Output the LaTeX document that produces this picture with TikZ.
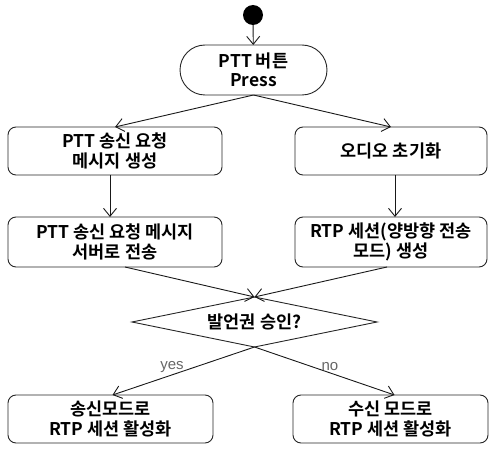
\documentclass[tikz,border=0pt]{standalone}
\usepackage{fontspec}
\setmainfont{Noto Sans CJK KR}[BoldFont={Noto Sans CJK KR Bold}]
\newfontfamily\lblfont{Liberation Sans}
\usetikzlibrary{shapes.misc,shapes.geometric,arrows.meta}
\begin{document}
\begin{tikzpicture}[x=1pt,y=1pt,
  every node/.style={inner sep=0pt,outer sep=0pt},
  txt/.style={align=center,font=\fontsize{17.5}{19.5}\selectfont\bfseries},
  box/.style={txt,draw=black!85,line width=0.9pt,rounded corners=8pt},
  arr/.style={draw=black!90,line width=0.9pt,-{Straight Barb[length=8pt,width=13pt]}},
  lbl/.style={text=black!60,font=\lblfont\fontsize{15}{17}\selectfont}]
\useasboundingbox (0,0) rectangle (496,448);
\node[circle,fill=black,minimum size=20pt] (st) at (253,433) {};
\node[txt,rounded rectangle,draw=black!85,line width=0.9pt,minimum width=147pt,minimum height=50pt] (press) at (253.5,378) {PTT 버튼\\Press};
\node[box,minimum width=214pt,minimum height=48pt] (l1) at (115,297) {PTT 송신 요청\\메시지 생성};
\node[box,minimum width=192pt,minimum height=48pt] (r1) at (391,297) {오디오 초기화};
\node[box,minimum width=214pt,minimum height=50pt] (l2) at (115,206) {PTT 송신 요청 메시지\\서버로 전송};
\node[box,minimum width=192pt,minimum height=50pt] (r2) at (391,206) {RTP 세션(양방향 전송\\모드) 생성};
\node[txt,diamond,draw=black!85,line width=0.9pt,minimum width=245pt,minimum height=50pt,aspect=4.9] (d) at (254.5,126) {발언권 승인?};
\node[box,minimum width=205pt,minimum height=48pt] (bl) at (110.5,29) {송신모드로\\RTP 세션 활성화};
\node[box,minimum width=195pt,minimum height=48pt] (br) at (390.5,29) {수신 모드로\\RTP 세션 활성화};
\draw[arr] (st) -- (press);
\draw[arr] (press.south) -- (l1.north);
\draw[arr] (press.south) -- (r1.north);
\draw[arr] ([xshift=-5pt]l1.south) -- ([xshift=-5pt]l2.north);
\draw[arr] ([xshift=4pt]r1.south) -- ([xshift=4pt]r2.north);
\draw[arr] ([xshift=10pt]l2.south) -- (d.north);
\draw[arr] ([xshift=-4pt]r2.south) -- (d.north);
\draw[arr] (d.south) -- ([xshift=2pt]bl.north);
\draw[arr] (d.south) -- ([xshift=4pt]br.north);
\node[lbl] (yes) at (172,81) {yes};
\node[lbl] (no) at (330,81) {no};
\end{tikzpicture}
\end{document}
